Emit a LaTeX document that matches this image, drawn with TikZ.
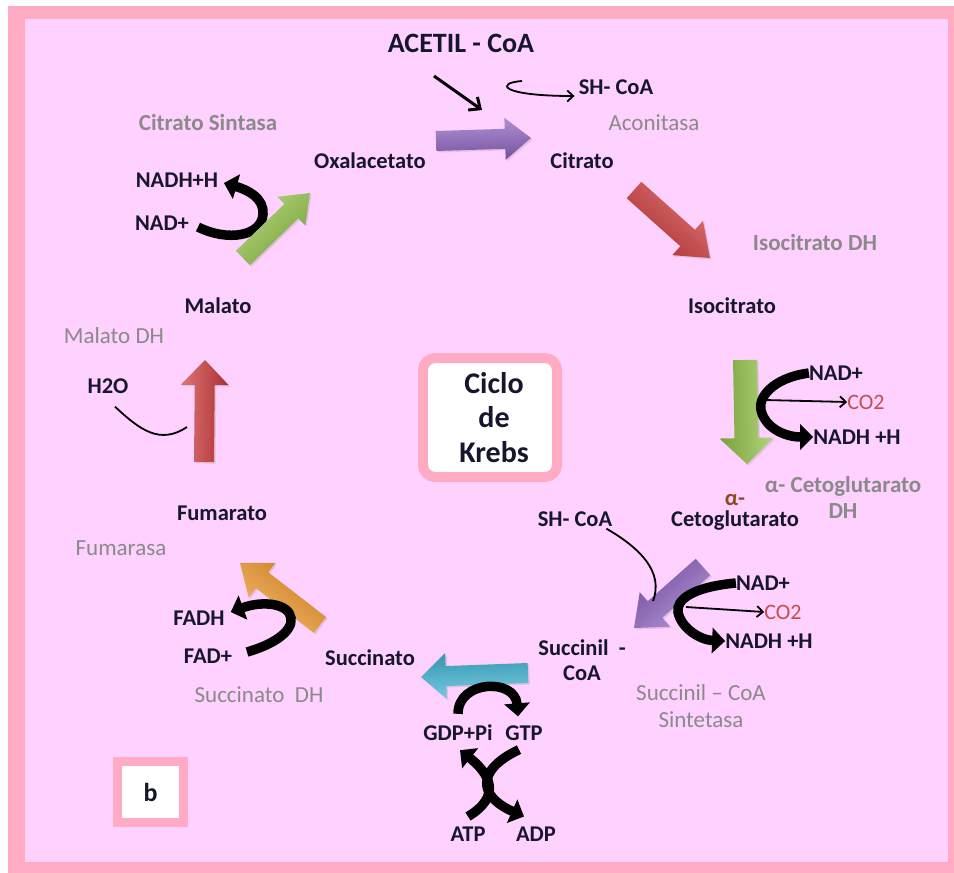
\documentclass[tikz,border=0pt]{standalone}
\usepackage{fontspec}
\setmainfont{Carlito}
\usetikzlibrary{calc,arrows.meta,shadows}

\definecolor{frame}{HTML}{FFABC3}
\definecolor{paper}{HTML}{FFD1FE}
\definecolor{ink}{HTML}{16162C}
\definecolor{enzgray}{HTML}{8A8A8A}
\definecolor{co2red}{HTML}{C0504D}
\definecolor{alphabrown}{HTML}{8C4A1E}
\definecolor{cPurple}{HTML}{8E63C2}
\definecolor{cRed}{HTML}{D0393A}
\definecolor{cGreen}{HTML}{93C447}
\definecolor{cOrange}{HTML}{F39A2C}
\definecolor{cCyan}{HTML}{3FB7D6}

\tikzset{
  lbl/.style={font=\bfseries\fontsize{22.5}{24}\selectfont, text=ink, inner sep=0pt, align=center},
  enz/.style={font=\fontsize{23}{25}\selectfont, text=enzgray, inner sep=0pt, align=center},
  enzb/.style={enz, font=\bfseries\fontsize{23}{25}\selectfont},
  co2lbl/.style={font=\fontsize{22}{24}\selectfont, text=co2red, inner sep=0pt},
  thickarc/.style={draw=black, line width=9.5pt, -{Triangle[length=13pt,width=25pt]}},
  thinline/.style={draw=black, line width=1.8pt},
  thinarrow/.style={draw=black, line width=1.8pt, -{Straight Barb[length=6pt,width=11pt]}},
  boldarrow/.style={draw=black, line width=3pt, -{Straight Barb[length=9pt,width=16pt]}},
  arrowbody/.style={drop shadow={opacity=0.22, shadow xshift=1.5pt, shadow yshift=-1.5pt}},
}

% block arrow: #1 name, #2 tail, #3 tip, #4 half shaft width,
% #5 half head width, #6 head length, #7 colour, #8 shading angle
\newcommand\blockarrow[8]{%
  \coordinate (#1-h) at ($(#3)!#6!(#2)$);
  \path[arrowbody, top color=#7!70!white, bottom color=#7!82!black, shading angle=#8]
    ($(#2)!#4!90:(#3)$) -- ($(#1-h)!#4!90:(#3)$) -- ($(#1-h)!#5!90:(#3)$)
    -- (#3) -- ($(#1-h)!#5!-90:(#3)$) -- ($(#1-h)!#4!-90:(#3)$)
    -- ($(#2)!#4!-90:(#3)$) -- cycle;
}

\begin{document}
\begin{tikzpicture}[x=1pt,y=-1pt]
\useasboundingbox (0,0) rectangle (954,873);
\fill[white] (0,0) rectangle (954,873);
\fill[frame] (8,6) rectangle (954,873);
\fill[paper] (25,19) rectangle (948,862);

% ---------- labels ----------
\node[lbl, font=\bfseries\fontsize{28}{30}\selectfont] (acetil) at (461,43) {ACETIL - CoA};
\node[lbl] (shcoaA) at (616,87) {SH- CoA};
\node[enz] (aconitasa) at (654,123) {Aconitasa};
\node[lbl] (oxal) at (370,161) {Oxalacetato};
\node[lbl] (citrato) at (582,161) {Citrato};
\node[enzb] (cs) at (208,123) {Citrato Sintasa};
\node[lbl] (nadhA) at (177,180) {NADH+H};
\node[lbl] (nadA) at (162,223) {NAD+};
\node[lbl] (malato) at (218,306) {Malato};
\node[enz] (mdh) at (114,336) {Malato DH};
\node[lbl] (h2o) at (108,386) {H2O};
\node[lbl] (fumarato) at (222,513) {Fumarato};
\node[enz] (fumarasa) at (121,548) {Fumarasa};
\node[lbl] (fadh) at (199,618) {FADH};
\node[lbl] (fad) at (208,656) {FAD+};
\node[enz] (sdh) at (259,695) {Succinato\ \ DH};
\node[lbl] (succinato) at (370,658) {Succinato};
\node[lbl] (gdp) at (458,733) {GDP+Pi};
\node[lbl] (gtp) at (524,733) {GTP};
\node[lbl] (atp) at (468,834) {ATP};
\node[lbl] (adp) at (536,834) {ADP};
\node[enzb] (idh) at (815,243) {Isocitrato DH};
\node[lbl] (isocitrato) at (732,306) {Isocitrato};
\node[lbl] (nadB) at (836,373) {NAD+};
\node[co2lbl] (co2B) at (866,402) {CO2};
\node[lbl] (nadhB) at (857,437) {NADH +H};
\node[enzb, font=\bfseries\fontsize{23}{26}\selectfont] (akgdh) at (843,497) {α- Cetoglutarato\\DH};
\node[lbl, font=\bfseries\fontsize{22.5}{21}\selectfont] (akg) at (735,512) {\textcolor{alphabrown}{α-}\\Cetoglutarato};
\node[lbl] (shcoaB) at (575,519) {SH- CoA};
\node[lbl] (nadC) at (763,583) {NAD+};
\node[co2lbl] (co2C) at (783,612) {CO2};
\node[lbl] (nadhC) at (769,641) {NADH +H};
\node[lbl, font=\bfseries\fontsize{22.5}{25}\selectfont] (succoa) at (582,660) {Succinil\ \ -\\CoA};
\node[enz, font=\fontsize{23}{27}\selectfont] (scs) at (701,706) {Succinil – CoA\\Sintetasa};

% ---------- boxes ----------
\node[draw=frame, line width=10pt, fill=white, rounded corners=12pt,
      minimum width=134pt, minimum height=119pt, inner sep=0pt,
      font=\bfseries\fontsize{30}{34.5}\selectfont, text=ink, align=center]
      (krebs) at (490,417.5) {\hspace*{8pt}Ciclo\\\hspace*{8pt}de\\\hspace*{8pt}Krebs};
\node[draw=frame, line width=9pt, fill=white, minimum width=66pt, minimum height=61pt,
      inner sep=0pt, font=\bfseries\fontsize{26}{28}\selectfont, text=ink]
      (bbox) at (150.5,792) {b};

% ---------- arrow end points ----------
\coordinate (pA1) at (436,141);  \coordinate (pB1) at (531,138);
\coordinate (pA2) at (634,190);  \coordinate (pB2) at (710,258);
\coordinate (pA3) at (745,360);  \coordinate (pB3) at (747,464);
\coordinate (pA4) at (703,567);  \coordinate (pB4) at (634,628);
\coordinate (pA5) at (528,673);  \coordinate (pB5) at (421,677);
\coordinate (pA6) at (320,625);  \coordinate (pB6) at (240,563);
\coordinate (pA7) at (204,462);  \coordinate (pB7) at (205,360);
\coordinate (pA8) at (243,258);  \coordinate (pB8) at (310,193);

% ---------- Citrato Sintasa step ----------
\draw[thickarc] (198,227) .. controls (228,242) and (262,236) .. (263,214)
                .. controls (264,198) and (248,190) .. (224,183);
\blockarrow{ga}{pA8}{pB8}{10pt}{20pt}{26pt}{cGreen}{44}

% ---------- main block arrows ----------
\blockarrow{pa}{pA1}{pB1}{10pt}{21pt}{26pt}{cPurple}{2}
\blockarrow{ra}{pA2}{pB2}{11pt}{23pt}{30pt}{cRed}{-42}
\blockarrow{gb}{pA3}{pB3}{12pt}{27pt}{26pt}{cGreen}{-89}
\blockarrow{pb}{pA4}{pB4}{11pt}{23pt}{28pt}{cPurple}{221}
\blockarrow{ca}{pA5}{pB5}{10pt}{23pt}{25pt}{cCyan}{182}
\blockarrow{oa}{pA6}{pB6}{10pt}{22pt}{28pt}{cOrange}{142}
\blockarrow{rb}{pA7}{pB7}{10pt}{24pt}{25pt}{cRed}{89}

% ---------- acetyl-CoA entry ----------
\coordinate (acIn) at (434,76);
\coordinate (acOut) at (482,110);
\draw[boldarrow] (acIn) -- (acOut);
\coordinate (shIn) at (522,81);
\draw[thinarrow] (shIn) .. controls (495,83) and (500,96) .. ($(shcoaA.west)+(-4,9)$);

% ---------- isocitrato DH ----------
\draw[thickarc] (nadB.west) .. controls (772,378) and (758,398) .. (761,410)
                .. controls (765,428) and (785,437) .. (nadhB.west);
\coordinate (co2Bst) at (765,400);
\draw[thinarrow] (co2Bst) -- (co2B.west);

% ---------- alfa-cetoglutarato DH ----------
\draw[thickarc] (nadC.west) .. controls (692,587) and (676,600) .. (678,612)
                .. controls (681,628) and (700,640) .. (nadhC.west);
\coordinate (co2Cst) at (686,607);
\draw[thinarrow] (co2Cst) -- (co2C.west);
\coordinate (shBend) at (653,601);
\draw[thinline] ($(shcoaB.south east)+(-6,2)$) .. controls (640,548) and (664,572) .. (shBend);

% ---------- succinil-CoA sintetasa ----------
\draw[thickarc] ($(gdp.north)+(0,-11)$) .. controls (458,680) and (515,678) .. ($(gtp.north)+(-6,-9)$);
\draw[thickarc] ($(atp.north)+(0,-10)$) .. controls (502,796) and (490,774) .. ($(gdp.south)+(2,9)$);
\draw[thickarc] ($(gtp.south)+(-5,9)$) .. controls (476,770) and (478,796) .. ($(adp.north)+(-12,-10)$);

% ---------- succinato DH ----------
\draw[thickarc] (247,652) .. controls (272,645) and (293,632) .. (291,618)
                .. controls (289,604) and (264,600) .. ($(fadh.east)+(6,-6)$);

% ---------- fumarasa ----------
\coordinate (h2oEnd) at (187,427);
\draw[thinline] ($(h2o.south)+(7,13)$) .. controls (140,430) and (160,445) .. (h2oEnd);
\end{tikzpicture}
\end{document}
